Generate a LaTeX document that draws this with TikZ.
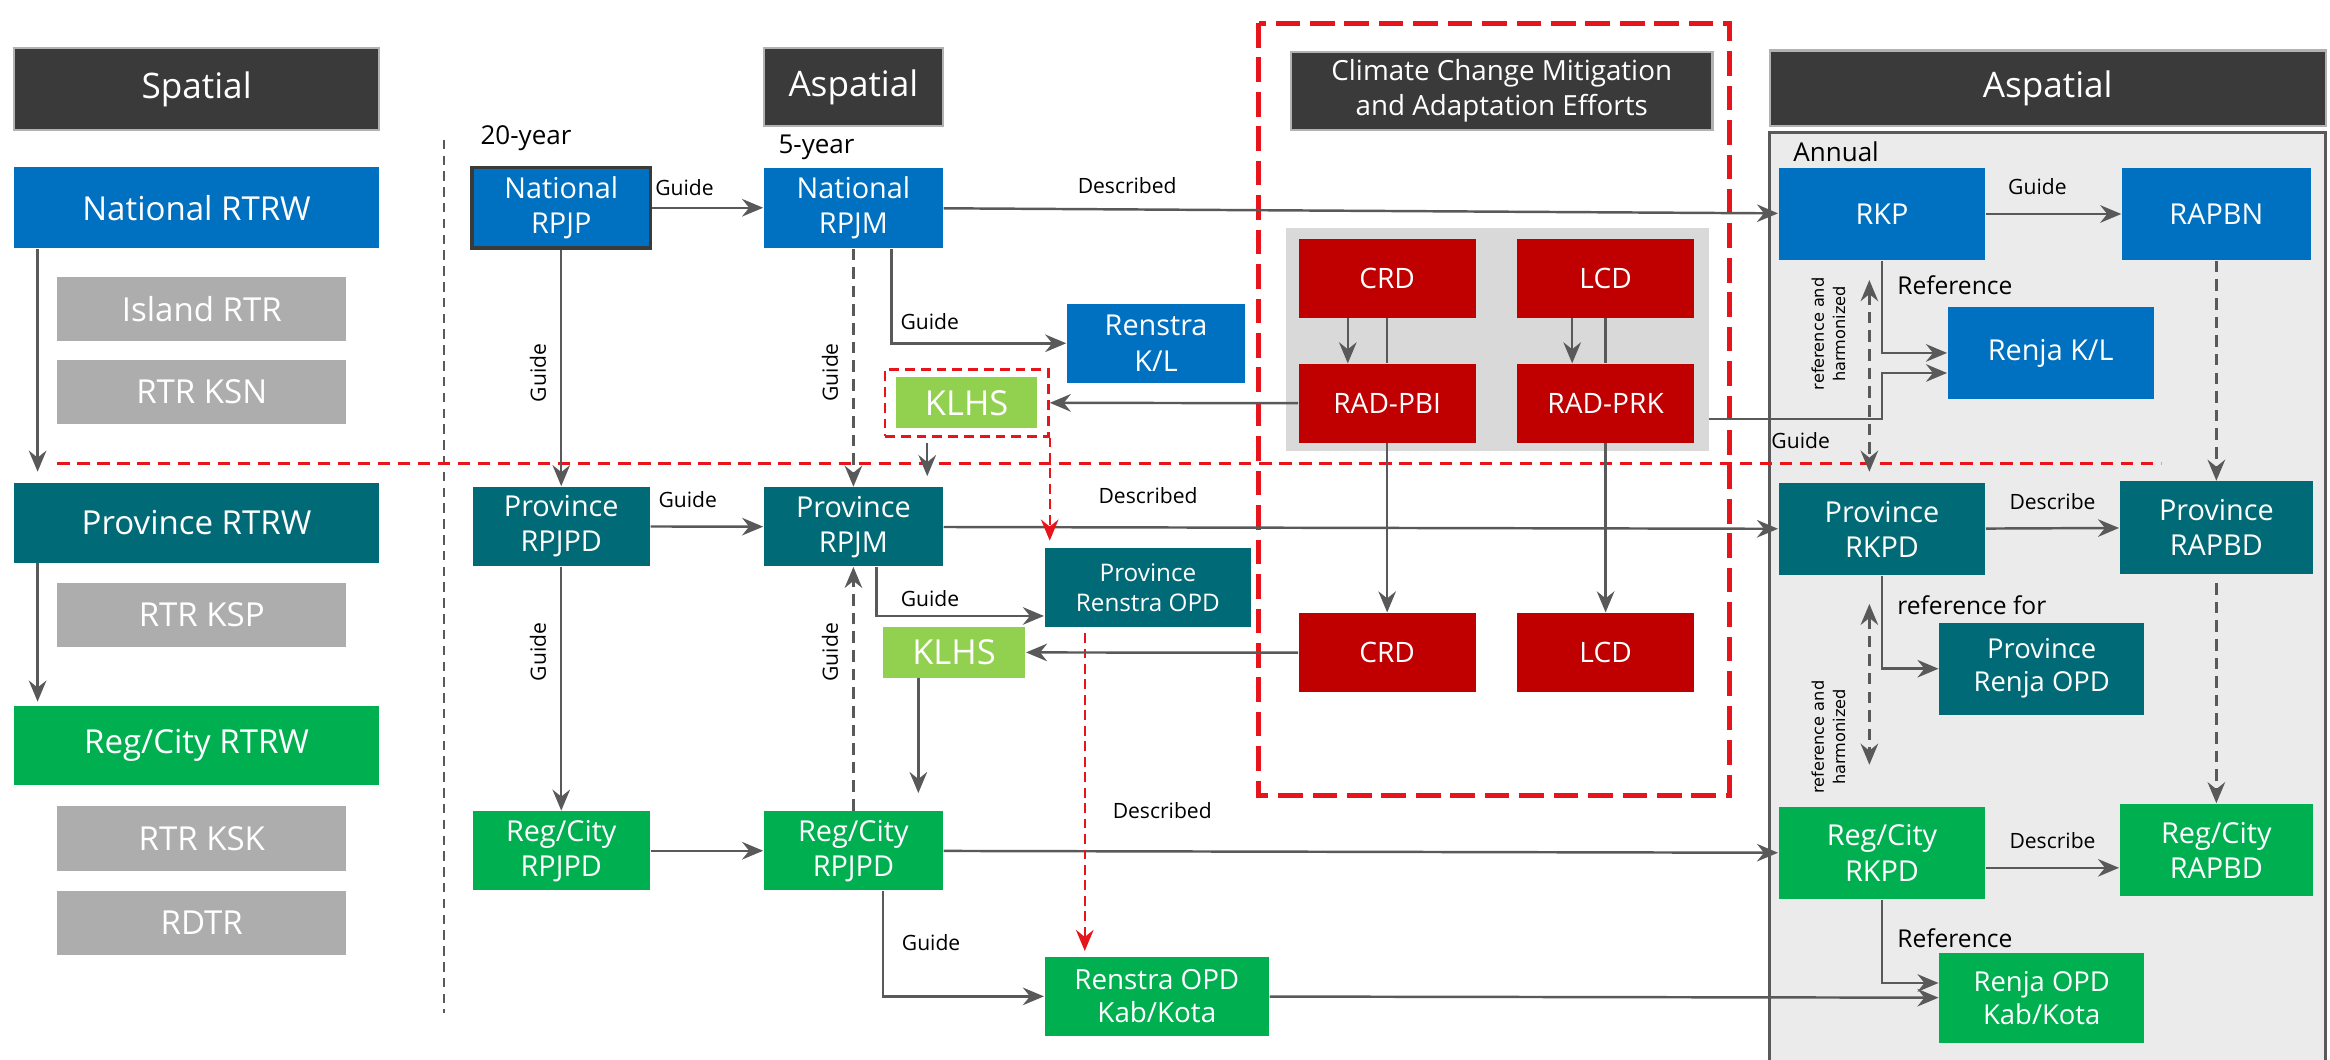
\documentclass[tikz,border=0pt]{standalone}
\usepackage{fontspec}
\setmainfont{Open Sans}
\newfontfamily\rotfont{DejaVu Sans}
\usetikzlibrary{arrows.meta, positioning, fit}

\definecolor{natblue}{HTML}{0070C0}
\definecolor{provteal}{HTML}{006B77}
\definecolor{reggreen}{HTML}{00B050}
\definecolor{klhsgreen}{HTML}{92D050}
\definecolor{subgray}{HTML}{ADADAD}
\definecolor{headgray}{HTML}{3A3A3A}
\definecolor{climred}{HTML}{C00000}
\definecolor{panelgray}{HTML}{EBEBEB}
\definecolor{innergray}{HTML}{D9D9D9}
\definecolor{linegray}{HTML}{595959}
\definecolor{dashred}{HTML}{E8141B}

\newcommand{\pxu}{0.01486cm}

\tikzstyle{arrow} = [draw=linegray, line width=0.7pt, -{Stealth[length=6pt,width=5pt,inset=2pt]}]
\tikzstyle{joinline} = [draw=linegray, line width=0.7pt]
\tikzstyle{dasharrow} = [arrow, dash pattern=on 3.3pt off 2pt]
\tikzstyle{twoway} = [dasharrow, {Stealth[length=6pt,width=5pt,inset=2pt]}-{Stealth[length=6pt,width=5pt,inset=2pt]}]
\tikzstyle{redarrow} = [draw=dashred, line width=0.7pt, dash pattern=on 2.8pt off 1.6pt, -{Stealth[length=6pt,width=5pt,inset=2pt]}]
\tikzstyle{box} = [rectangle, align=center, text=white, inner sep=0pt, font=\fontsize{8.2}{10}\selectfont]
\tikzstyle{natbox} = [box, fill=natblue]
\tikzstyle{provbox} = [box, fill=provteal]
\tikzstyle{regbox} = [box, fill=reggreen]
\tikzstyle{redbox} = [box, fill=climred, font=\fontsize{8}{10}\selectfont]
\tikzstyle{klhsbox} = [box, fill=klhsgreen, font=\fontsize{9.8}{11}\selectfont]
\tikzstyle{subbox} = [box, fill=subgray, font=\fontsize{9.4}{11}\selectfont]
\tikzstyle{header} = [box, fill=headgray, draw=gray!60, line width=0.6pt, font=\fontsize{10}{12}\selectfont]
\tikzstyle{lbl} = [font=\fontsize{6}{7}\selectfont, inner sep=1pt]
\tikzstyle{lblbig} = [font=\fontsize{7}{8}\selectfont, inner sep=1pt]
\tikzstyle{rotguide} = [lbl, rotate=90, anchor=south, inner xsep=0pt, inner ysep=4pt]
\tikzstyle{rotlbl} = [font=\rotfont\fontsize{4.6}{6}\selectfont, align=center, rotate=90, anchor=south, inner xsep=0pt, inner ysep=6.5pt]
\tikzset{dims/.style 2 args={minimum width=#1*\pxu, minimum height=#2*\pxu}}

\begin{document}
\begin{tikzpicture}[x=\pxu, y=-\pxu]
    \useasboundingbox (0,0) rectangle (1568,713);

    % Panels
    \fill[panelgray] (1191,89) rectangle (1565,730);
    \draw[linegray, line width=0.8pt] (1191,730) -- (1191,89) -- (1565,89) -- (1565,730);
    \node[fill=innergray, dims={284.7}{150.1}] (climPanel) at (1007.6,228.4) {};
    \draw[dashred, line width=1.4pt, dash pattern=on 7pt off 2.8pt] (847,15.5) rectangle (1163.8,535.4);
    \draw[linegray, line width=0.6pt, dash pattern=on 2.7pt off 1.8pt] (299,94) -- (299,682);
    \draw[dashred, line width=0.8pt, dash pattern=on 3.5pt off 2.2pt] (38.6,312) -- (1454,312);

    % Headers
    \node[header, dims={245.6}{55.2}] (hdSpatial) at (132.3,60) {Spatial};
    \node[header, dims={120.5}{52.3}] (hdAspatialA) at (574.3,58.5) {Aspatial};
    \node[header, dims={283.6}{52.7}, font=\fontsize{7.9}{10}\selectfont] (hdClimate) at (1010.6,61.2) {Climate Change Mitigation\\and Adaptation Efforts};
    \node[header, dims={374}{50.6}] (hdAspatialB) at (1378,59.3) {Aspatial};
    \node[lblbig, font=\fontsize{7.4}{8}\selectfont] (yr20) at (354,93) {20-year};
    \node[lblbig, font=\fontsize{7.4}{8}\selectfont] (yr5) at (549.5,99) {5-year};
    \node[lblbig, font=\fontsize{7.4}{8}\selectfont] (annual) at (1235.6,102) {Annual};

    % Spatial nodes
    \node[natbox, dims={245.6}{54.5}, font=\fontsize{9.4}{11}\selectfont] (natRTRW) at (132.3,139.8) {National RTRW};
    \node[subbox, dims={194.4}{43.2}] (islandRTR) at (135.8,208) {Island RTR};
    \node[subbox, dims={194.4}{43}] (rtrKSN) at (135.8,263.5) {RTR KSN};
    \node[provbox, dims={245.6}{53.6}, font=\fontsize{9.4}{11}\selectfont] (provRTRW) at (132.3,351.8) {Province RTRW};
    \node[subbox, dims={194.4}{43.6}] (rtrKSP) at (135.8,413.8) {RTR KSP};
    \node[regbox, dims={245.6}{53}, font=\fontsize{9.4}{11}\selectfont] (regRTRW) at (132.3,501.5) {Reg/City RTRW};
    \node[subbox, dims={194.4}{43.2}] (rtrKSK) at (135.8,564.3) {RTR KSK};
    \node[subbox, dims={194.4}{43.1}] (rdtr) at (135.8,621) {RDTR};

    % Aspatial nodes
    \node[natbox, dims={120.2}{54.5}, draw=headgray, line width=1pt] (natRPJP) at (377.7,139.8) {National\\RPJP};
    \node[natbox, dims={120.5}{54}] (natRPJM) at (574.3,139.8) {National\\RPJM};
    \node[provbox, dims={119.3}{53.1}] (provRPJPD) at (377.7,354.2) {Province\\RPJPD};
    \node[provbox, dims={120.5}{53}] (provRPJM) at (574.3,354.5) {Province\\RPJM};
    \node[regbox, dims={119.3}{53}] (regRPJPD) at (377.7,572.5) {Reg/City\\RPJPD};
    \node[regbox, dims={120.5}{53}] (regRPJM) at (574.3,572.5) {Reg/City\\RPJPD};
    \node[natbox, dims={120}{53}] (renstraKL) at (778,231) {Renstra\\K/L};
    \node[klhsbox, dims={95}{34}] (klhsA) at (650.5,271) {KLHS};
    \node[draw=dashred, line width=0.8pt, dash pattern=on 2.8pt off 1.7pt, fit=(klhsA), inner xsep=7*\pxu, inner ysep=5*\pxu] (klhsFrame) {};
    \node[provbox, dims={139}{53}, font=\fontsize{6.9}{8.3}\selectfont] (provRenstra) at (772.5,395.5) {Province\\Renstra OPD};
    \node[klhsbox, dims={96}{34}] (klhsB) at (642,439) {KLHS};
    \node[regbox, dims={151}{53}, font=\fontsize{7.9}{9.5}\selectfont] (renstraKab) at (778.5,670.5) {Renstra OPD\\Kab/Kota};

    % Climate nodes
    \node[redbox, dims={119}{52.7}] (crdA) at (933.5,187.4) {CRD};
    \node[redbox, dims={119}{52.7}] (lcdA) at (1080.5,187.4) {LCD};
    \node[redbox, dims={119}{52.8}] (radPBI) at (933.5,271.4) {RAD-PBI};
    \node[redbox, dims={119}{52.8}] (radPRK) at (1080.5,271.4) {RAD-PRK};
    \node[redbox, dims={119}{53.4}] (crdB) at (933.5,439.3) {CRD};
    \node[redbox, dims={119}{53.4}] (lcdB) at (1080.5,439.3) {LCD};

    % Annual nodes
    \node[natbox, dims={139}{62}] (rkp) at (1266.5,144) {RKP};
    \node[natbox, dims={127}{62}] (rapbn) at (1491.5,144) {RAPBN};
    \node[natbox, dims={138.5}{62}] (renjaKL) at (1380,237.5) {Renja K/L};
    \node[provbox, dims={139}{62}] (provRKPD) at (1266.5,356) {Province\\RKPD};
    \node[provbox, dims={130}{62}] (provRAPBD) at (1491.5,355) {Province\\RAPBD};
    \node[provbox, dims={138}{62}, font=\fontsize{7.8}{9.4}\selectfont] (provRenja) at (1374,450) {Province\\Renja OPD};
    \node[regbox, dims={139}{62}] (regRKPD) at (1266.5,574) {Reg/City\\RKPD};
    \node[regbox, dims={130}{62}] (regRAPBD) at (1491.5,572) {Reg/City\\RAPBD};
    \node[regbox, dims={138}{61}, font=\fontsize{7.8}{9.4}\selectfont] (renjaKab) at (1374,671.5) {Renja OPD\\Kab/Kota};
    \coordinate (prkOut) at (1150,282);

    % Edges: spatial
    \draw[arrow, shorten >=3pt] ([xshift=-107*\pxu]natRTRW.south) -- ([xshift=-107*\pxu]provRTRW.north);
    \draw[arrow, shorten >=1pt] ([xshift=-107*\pxu]provRTRW.south) -- ([xshift=-107*\pxu]regRTRW.north);

    % Edges: long and medium term
    \draw[arrow] (natRPJP) -- node[lbl, pos=0.29, above=2pt] {Guide} (natRPJM);
    \draw[arrow] (provRPJPD) -- node[lbl, pos=0.33, above=4pt] {Guide} (provRPJM);
    \draw[arrow] (regRPJPD) -- (regRPJM);
    \draw[arrow] (natRPJP) -- node[rotguide, pos=0.52] {Guide} (provRPJPD);
    \draw[arrow] (provRPJPD) -- node[rotguide, pos=0.35] {Guide} (regRPJPD);
    \draw[dasharrow] (natRPJM) -- node[rotguide, pos=0.52] {Guide} (provRPJM);
    \draw[dasharrow] (regRPJM) -- node[rotguide, pos=0.65] {Guide} (provRPJM);

    \draw[arrow] (natRPJM) -- node[lbl, pos=0.22, above=3pt] {Described} (rkp);
    \draw[arrow] ([xshift=25.5*\pxu]natRPJM.south) |- node[lbl, pos=0.61, above=2.5pt] {Guide} (renstraKL);
    \draw[arrow] (provRPJM) -- node[lbl, pos=0.245, above=5.5pt] {Described} (provRKPD);
    \draw[arrow] ([xshift=15.5*\pxu]provRPJM.south) |- node[lbl, pos=0.66, above=1.2pt] {Guide} ([yshift=-19*\pxu]provRenstra.west);
    \draw[arrow] (regRPJM) -- node[lbl, pos=0.262, above=8pt] {Described} (regRKPD);
    \draw[arrow] ([xshift=20*\pxu]regRPJM.south) |- node[lbl, pos=0.244, right=4pt] {Guide} (renstraKab);
    \draw[arrow] (renstraKab) -- (renjaKab);

    % Edges: KLHS
    \draw[arrow, shorten <=1.5pt, shorten >=3pt] ([xshift=-26.5*\pxu]klhsFrame.south) -- ([xshift=-26.5*\pxu]klhsFrame.south |- provRPJM.north);
    \draw[arrow] (radPBI) -- (klhsFrame);
    \draw[redarrow, shorten >=2pt] (klhsFrame.south east) -- (klhsFrame.south east |- provRenstra.north);
    \draw[redarrow, shorten <=1.5pt, shorten >=1.5pt] ([xshift=-42.5*\pxu]provRenstra.south) -- ([xshift=-42.5*\pxu]provRenstra.south |- renstraKab.north);
    \draw[arrow] (crdB) -- (klhsB);
    \draw[arrow, shorten >=5pt] ([xshift=-24*\pxu]klhsB.south) -- ([xshift=-24*\pxu]klhsB.south |- regRPJM.north);

    % Edges: climate
    \draw[joinline] (crdA) -- (radPBI);
    \draw[arrow] ([xshift=-26.5*\pxu]crdA.south) -- ([xshift=-26.5*\pxu]radPBI.north);
    \draw[joinline] (lcdA) -- (radPRK);
    \draw[arrow] ([xshift=-22.5*\pxu]lcdA.south) -- ([xshift=-22.5*\pxu]radPRK.north);
    \draw[arrow] (radPBI) -- (crdB);
    \draw[arrow] (radPRK) -- (lcdB);
    \draw[arrow] (prkOut) -- node[lbl, pos=0.53, below=2.4pt] {Guide} (prkOut -| rkp.south) |- ([yshift=-13.5*\pxu]renjaKL.west);

    % Edges: annual
    \draw[arrow] (rkp) -- node[lbl, pos=0.38, above=4pt] {Guide} (rapbn);
    \draw[arrow] (rkp) |- node[lblbig, pos=0.13, right=3pt] {Reference} (renjaKL);
    \draw[twoway, shorten <=5.5pt, shorten >=3pt] ([xshift=-8.5*\pxu]rkp.south) -- node[rotlbl, pos=0.33] {reference and\\harmonized} ([xshift=-8.5*\pxu]provRKPD.north);
    \draw[dasharrow] (rapbn) -- (provRAPBD);
    \draw[arrow] (provRKPD) -- node[lbl, midway, above=4pt] {Describe} (provRAPBD);
    \draw[arrow] (provRKPD) |- node[lblbig, pos=0.16, right=3pt] {reference for} (provRenja);
    \draw[twoway, shorten <=8pt, shorten >=11.8pt] ([xshift=-8.5*\pxu]provRKPD.south) -- node[rotlbl, pos=0.7] {reference and\\harmonized} ([xshift=-8.5*\pxu]regRKPD.north);
    \draw[dasharrow, shorten <=2.5pt] (provRAPBD) -- (regRAPBD);
    \draw[arrow] ([yshift=-10*\pxu]regRKPD.east) -- node[lbl, midway, above=4pt] {Describe} ([yshift=-10*\pxu]regRKPD.east -| regRAPBD.west);
    \draw[arrow] (regRKPD) |- node[lblbig, pos=0.23, right=3pt] {Reference} ([yshift=10*\pxu]renjaKab.west);
\end{tikzpicture}
\end{document}
